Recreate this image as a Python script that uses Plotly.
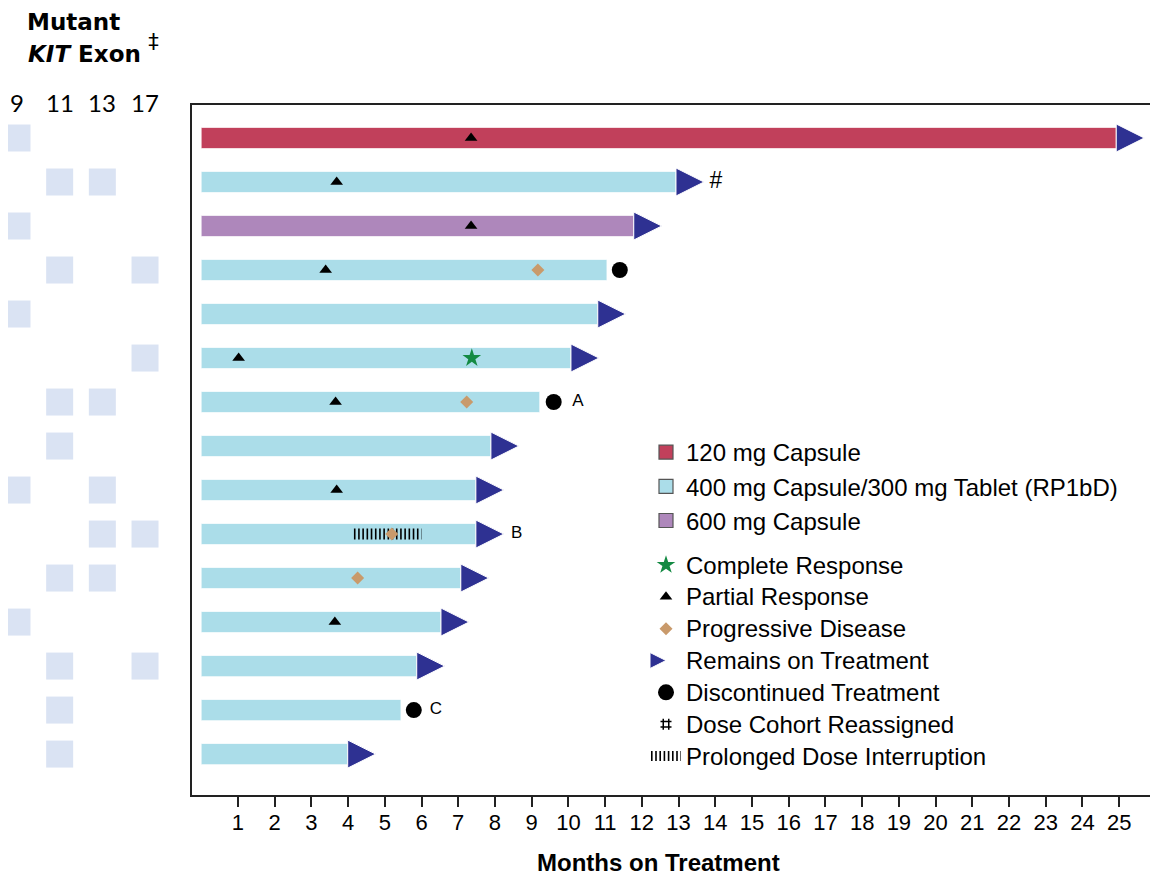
import plotly.graph_objects as go

# ---------------- data ----------------
patients = list(range(1, 16))
months = [24.92, 12.93, 11.78, 11.05, 10.80, 10.07, 9.22, 7.89, 7.48, 7.48, 7.07, 6.53, 5.87, 5.44, 3.99]
dose = ["120", "400", "600", "400", "400", "400", "400", "400", "400", "400", "400", "400", "400", "400", "400"]
ongoing = [True, True, True, False, True, True, False, True, True, True, True, True, True, False, True]

exon_labels = ["9", "11", "13", "17"]
exons = [["9"], ["11", "13"], ["9"], ["11", "17"], ["9"], ["17"], ["11", "13"], ["11"],
         ["9", "13"], ["13", "17"], ["11", "13"], ["9"], ["11", "17"], ["11"], ["11"]]

pr_rows = [1, 2, 3, 4, 6, 7, 9, 12]
pr_months = [7.35, 3.69, 7.35, 3.39, 1.02, 3.66, 3.69, 3.64]
cr_rows = [6]
cr_months = [7.37]
pd_rows = [4, 7, 10, 11]
pd_months = [9.17, 7.23, 5.19, 4.26]
disc_rows = [4, 7, 14]
disc_months = [11.40, 9.60, 5.79]
hash_rows = [2]
hash_months = [14.02]
note_rows = [7, 10, 14]
note_months = [10.26, 8.59, 6.39]
note_text = ["A", "B", "C"]
interrupt_row = 10
interrupt_start, interrupt_end = 4.16, 6.00
tick_months = list(range(1, 26))

dose_names = {"120": "120 mg Capsule", "400": "400 mg Capsule/300 mg Tablet (RP1bD)", "600": "600 mg Capsule"}
dose_colors = {"120": "#c1405b", "400": "#abdde9", "600": "#ae87bb"}

# ---------------- layout geometry ----------------
W, H = 1150, 871
ML, MR, MT, MB = 0, 1, 97, 84
PW = W - ML - MR
PH = H - MT - MB
XDOM = [184 / PW, 1.0]
XRANGE = [-0.25, 26.03]
YRANGE = [15.93, 0.25]
months_per_px = (XRANGE[1] - XRANGE[0]) / (PW * (XDOM[1] - XDOM[0]))
ARROW_SIZE = 28
FONT = "Liberation Sans, Arial, sans-serif"


def ypaper(px_from_top):
    return (H - MB - px_from_top) / PH


def big(name):
    return '<span style="font-size:24px">' + name + "</span>"


fig = go.Figure()

# bars
for d in ["120", "400", "600"]:
    xs = [m for m, dd in zip(months, dose) if dd == d]
    ys = [p for p, dd in zip(patients, dose) if dd == d]
    fig.add_trace(go.Bar(x=xs, y=ys, base=0, orientation="h", width=0.48,
                         marker=dict(color=dose_colors[d], line=dict(color="rgba(255,255,255,0.7)", width=1)),
                         showlegend=False, hoverinfo="skip"))
    fig.add_trace(go.Scatter(x=[None], y=[None], mode="markers", name=dose_names[d],
                             marker=dict(symbol="square", size=14, color=dose_colors[d],
                                         line=dict(color="#555555", width=1.2)),
                             legend="legend", legendrank={"120": 1, "400": 2, "600": 3}[d]))

# prolonged dose interruption
fig.add_trace(go.Scatter(x=[interrupt_start, interrupt_end], y=[interrupt_row, interrupt_row],
                         mode="lines", name=big("Prolonged Dose Interruption"),
                         line=dict(color="black", width=11, dash="1.6px,2.6px"),
                         legend="legend2", legendrank=10))

# exon squares (numeric column index on x2)
ex_x, ex_y = [], []
for p, ex in zip(patients, exons):
    for e in ex:
        ex_x.append(exon_labels.index(e))
        ex_y.append(p)
fig.add_trace(go.Scatter(x=ex_x, y=ex_y, xaxis="x2", yaxis="y", mode="markers",
                         marker=dict(symbol="square", size=27, color="#dae3f3"),
                         showlegend=False, hoverinfo="skip"))

# response markers
fig.add_trace(go.Scatter(x=cr_months, y=cr_rows, mode="markers", name=big("Complete Response"),
                         marker=dict(symbol="star", size=14, color="#148a43"),
                         legend="legend2", legendrank=4))
fig.add_trace(go.Scatter(x=pr_months, y=pr_rows, mode="markers", name=big("Partial Response"),
                         marker=dict(symbol="triangle-up", size=11, color="black"),
                         legend="legend2", legendrank=5))
fig.add_trace(go.Scatter(x=pd_months, y=pd_rows, mode="markers", name=big("Progressive Disease"),
                         marker=dict(symbol="diamond", size=10, color="#c99a6b"),
                         legend="legend2", legendrank=6))

arrow_x = [m + ARROW_SIZE * months_per_px for m, o in zip(months, ongoing) if o]
arrow_y = [p for p, o in zip(patients, ongoing) if o]
fig.add_trace(go.Scatter(x=arrow_x, y=arrow_y, mode="markers", name=big("Remains on Treatment"),
                         marker=dict(symbol="arrow-right", size=ARROW_SIZE, color="#2e3192",
                                     line=dict(color="white", width=1)),
                         legend="legend2", legendrank=7))
fig.add_trace(go.Scatter(x=disc_months, y=disc_rows, mode="markers", name=big("Discontinued Treatment"),
                         marker=dict(symbol="circle", size=16, color="black"),
                         legend="legend2", legendrank=8))
fig.add_trace(go.Scatter(x=hash_months, y=hash_rows, mode="text", text=["#"],
                         textfont=dict(family=FONT, size=23, color="black"),
                         showlegend=False, hoverinfo="skip"))
fig.add_trace(go.Scatter(x=[None], y=[None], mode="markers", name=big("Dose Cohort Reassigned"),
                         marker=dict(symbol="hash-open", size=11, color="black", line=dict(color="black", width=1.5)),
                         legend="legend2", legendrank=9))
fig.add_trace(go.Scatter(x=note_months, y=note_rows, mode="text", text=note_text,
                         textfont=dict(family=FONT, size=17, color="black"),
                         showlegend=False, hoverinfo="skip"))

# header annotations
HEAD_FONT = "DejaVu Sans, sans-serif"
annotations = [
    dict(x=18 / PW, y=ypaper(0), xref="paper", yref="paper", xanchor="left", yanchor="top", borderpad=0,
         text="<b>Mutant</b>", showarrow=False, font=dict(family=HEAD_FONT, size=23, color="black")),
    dict(x=18 / PW, y=ypaper(40), xref="paper", yref="paper", xanchor="left", yanchor="middle",
         text='<b><i>KIT</i> Exon</b> <span style="font-size:30px"><sup>‡</sup></span>', showarrow=False,
         font=dict(family=HEAD_FONT, size=23, color="black")),
    dict(x=(658 - 8) / PW, y=ypaper(854), xref="paper", yref="paper", xanchor="center", yanchor="middle",
         text="<b>Months on Treatment</b>", showarrow=False, font=dict(family=FONT, size=24, color="black")),
]
for i, lab in enumerate(exon_labels):
    annotations.append(dict(x=i, y=ypaper(94), xref="x2", yref="paper",
                            xanchor="center", yanchor="middle", text=lab, showarrow=False,
                            font=dict(family="Lato, sans-serif", size=24, color="black")))

fig.update_layout(
    width=W, height=H,
    margin=dict(l=ML, r=MR, t=MT, b=MB),
    paper_bgcolor="white", plot_bgcolor="white",
    font=dict(family=FONT, color="black"),
    barmode="overlay",
    annotations=annotations,
    xaxis=dict(domain=XDOM, range=XRANGE, tickvals=tick_months, ticks="outside", ticklen=10,
               tickwidth=1.5, tickcolor="#222", showgrid=False, zeroline=False,
               showline=True, linecolor="#222", linewidth=1.5, mirror=True,
               tickfont=dict(family=FONT, size=22, color="black"), ticklabelstandoff=-3,
               anchor="y"),
    xaxis2=dict(domain=[0, 170 / PW], range=[-0.211, 3.773], visible=False, anchor="y"),
    yaxis=dict(range=YRANGE, showticklabels=False, ticks="", showgrid=False, zeroline=False,
               showline=True, linecolor="#222", linewidth=1.5, mirror=True, anchor="x"),
    legend=dict(x=638 / PW, y=ypaper(422), xanchor="left", yanchor="top",
                bgcolor="rgba(0,0,0,0)", font=dict(family=FONT, size=24, color="black"),
                itemsizing="trace"),
    legend2=dict(x=638 / PW, y=ypaper(536), xanchor="left", yanchor="top",
                 bgcolor="rgba(0,0,0,0)", font=dict(family=FONT, size=22.2, color="black"),
                 itemsizing="trace"),
)

fig.write_html("out.html")
